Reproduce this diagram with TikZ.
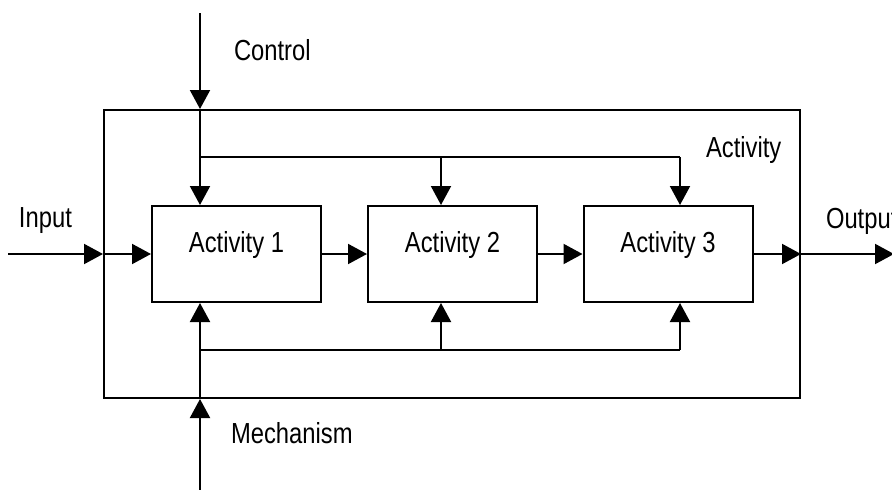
\documentclass[tikz,border=0pt]{standalone}
\usepackage{fontspec}
\setmainfont{Liberation Sans}[FakeStretch=0.82]
\usepackage{tikz}
\usetikzlibrary{arrows.meta,positioning,calc}

\begin{document}
\begin{tikzpicture}[x=1pt,y=-1pt,line width=2pt,
    txt/.style={font=\fontsize{29}{34}\selectfont},
    actbox/.style={draw,txt,inner sep=0pt,minimum width=169pt,text height=46pt,text depth=50pt},
    lbl/.style={txt,inner sep=0pt,anchor=base west},
    arr/.style={-{Triangle[length=19pt,width=20pt]}}]
      \useasboundingbox (0,0) rectangle (892,490);
      % Boxes
      \node[draw,minimum width=696pt,minimum height=288pt] (act) at (452,254) {};
      \node[actbox] (a1) at (236.5,254) {Activity 1};
      \node[actbox] (a2) at (452.5,254) {Activity 2};
      \node[actbox] (a3) at (668,254) {Activity 3};
      % Labels
      \node[lbl] (lcontrol) at (233,60) {Control};
      \node[lbl] (linput) at (18,227) {Input};
      \node[lbl] (loutput) at (825,228) {Output};
      \node[lbl] (lact) at (705,157) {Activity};
      \node[lbl] (lmech) at (230,443) {Mechanism};
      % Input and output
      \coordinate (in) at (8,254);
      \coordinate (out) at (894,254);
      \draw[arr] (in) -- (act.west |- a1);
      \draw[arr] (act.west |- a1) -- (a1.west);
      \draw[arr] (a1) -- (a2);
      \draw[arr] (a2) -- (a3);
      \draw[arr] (a3.east) -- (act.east |- a3);
      \draw[arr] (act.east |- a3) -- (out);
      % Control
      \coordinate (ctop) at (200,13);
      \coordinate (cj1) at (200,157);
      \coordinate (cj2) at (441,157);
      \coordinate (cj3) at (680,157);
      \draw[arr] (ctop) -- (ctop |- act.north);
      \draw[arr] (ctop |- act.north) -- (ctop |- a1.north);
      \draw (cj1) -- (cj3);
      \draw[arr] (cj2) -- (cj2 |- a2.north);
      \draw[arr] (cj3) -- (cj3 |- a3.north);
      % Mechanism
      \coordinate (mbot) at (200,490);
      \coordinate (mj1) at (200,350);
      \coordinate (mj2) at (441,350);
      \coordinate (mj3) at (680,350);
      \draw[arr] (mbot) -- (mbot |- act.south);
      \draw[arr] (mbot |- act.south) -- (mbot |- a1.south);
      \draw (mj1) -- (mj3);
      \draw[arr] (mj2) -- (mj2 |- a2.south);
      \draw[arr] (mj3) -- (mj3 |- a3.south);
\end{tikzpicture}
\end{document}
